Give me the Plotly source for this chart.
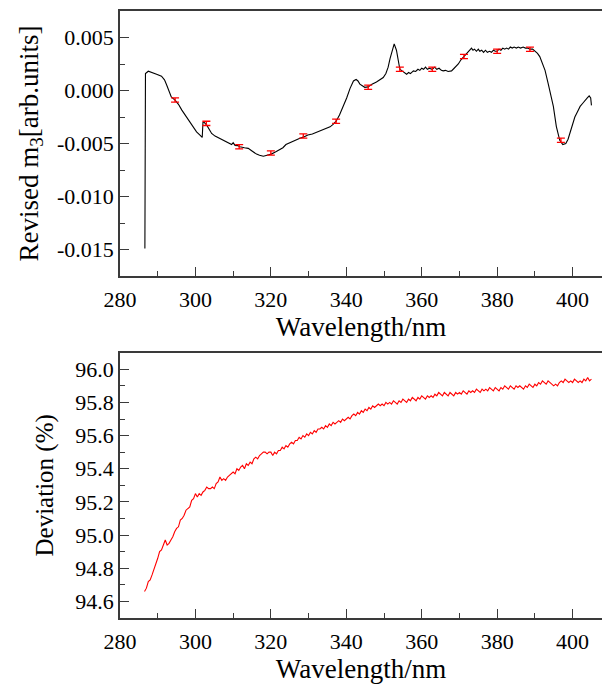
import plotly.graph_objects as go
from plotly.subplots import make_subplots

# ---------------- top panel: revised m3 ----------------
m3_wavelength = [
    286.6, 286.75, 287.5, 288.4, 289.7, 291.0, 291.8, 292.4, 293.6, 294.6,
    295.5, 296.4, 297.3, 298.1, 299.2, 300.3, 301.2, 301.8, 302.0, 302.2,
    303.0, 303.7, 304.3, 305.2, 306.5, 307.8, 309.1, 309.6, 310.0, 310.5,
    311.2, 311.8, 313.0, 314.0, 315.0, 316.2, 317.0, 318.0, 319.0, 320.1,
    321.2, 322.4, 323.2, 324.0, 325.1, 326.4, 327.7, 328.6, 329.8, 331.0,
    332.4, 333.9, 334.8, 335.7, 336.5, 337.3, 338.2, 339.2, 340.1, 341.0,
    341.9, 342.6, 343.1, 343.6, 344.3, 344.9, 345.8, 346.8, 348.0, 349.0,
    349.8, 350.5, 351.1, 351.6, 352.0, 352.7, 353.3, 353.9, 354.2, 354.6,
    355.1, 355.5, 356.0, 356.5, 357.0, 357.8, 358.4, 359.0, 359.5, 360.0,
    360.5, 361.0, 361.5, 362.0, 362.8, 363.4, 364.0, 364.6, 365.2, 365.7,
    366.3, 367.0, 367.9, 368.6, 369.2, 369.7, 370.4, 371.2, 371.8, 372.3,
    372.8, 373.2, 373.6, 374.0, 374.5, 375.0, 375.4, 375.9, 376.4, 376.9,
    377.4, 378.0, 378.5, 379.0, 379.5, 380.0, 380.5, 381.0, 381.5, 382.0,
    382.5, 383.0, 383.5, 384.0, 384.5, 385.1, 385.6, 386.2, 386.9, 387.5,
    388.1, 388.7, 389.4, 390.0, 390.7, 391.3, 392.0, 392.7, 393.5, 394.2,
    394.9, 395.7, 396.6, 397.4, 398.2, 398.8, 399.3, 400.0, 400.6, 401.3,
    402.0, 402.7, 403.3, 403.9, 404.4, 404.8, 405.0,
]
m3_value = [
    -0.0149, 0.0016, 0.00182, 0.00172, 0.00153, 0.00135, 0.0010, 0.0005, -0.0006, -0.0009,
    -0.0013, -0.00185, -0.0023, -0.0028, -0.0033, -0.0039, -0.0042, -0.00443, -0.0030, -0.00296,
    -0.00327, -0.0037, -0.00405, -0.0043, -0.00452, -0.0048, -0.0050, -0.0051, -0.00493, -0.00518,
    -0.0052, -0.00531, -0.0054, -0.00546, -0.0057, -0.0060, -0.0061, -0.0062, -0.0061, -0.0060,
    -0.0058, -0.00556, -0.0054, -0.0051, -0.0049, -0.0047, -0.0045, -0.0044, -0.0042, -0.0041,
    -0.0039, -0.00374, -0.0036, -0.00343, -0.0032, -0.0029, -0.0023, -0.00154, -0.0007, 0.0002,
    0.0009, 0.00104, 0.0009, 0.0006, 0.0004, 0.0003, 0.00034, 0.0006, 0.0008, 0.0010,
    0.00122, 0.0016, 0.0022, 0.0030, 0.0036, 0.0044, 0.0038, 0.0024, 0.0020, 0.0019,
    0.00175, 0.0016, 0.00153, 0.0017, 0.0016, 0.00185, 0.0018, 0.0020, 0.0019, 0.0021,
    0.0020, 0.0022, 0.0020, 0.0021, 0.0020, 0.0022, 0.0020, 0.0021, 0.0019, 0.00185,
    0.0019, 0.0018, 0.00185, 0.0021, 0.0023, 0.0025, 0.0029, 0.0032, 0.0034, 0.0036,
    0.0038, 0.0040, 0.0038, 0.0039, 0.0037, 0.0039, 0.0037, 0.0038, 0.0036, 0.0038,
    0.0036, 0.0037, 0.0036, 0.0038, 0.0037, 0.0037, 0.0039, 0.0038, 0.0040, 0.0039,
    0.0040, 0.0039, 0.0041, 0.0040, 0.0041, 0.0040, 0.0041, 0.0040, 0.0041, 0.0040,
    0.0040, 0.0039, 0.0039, 0.0037, 0.0035, 0.0032, 0.0026, 0.0019, 0.0007, -0.0004,
    -0.0015, -0.0034, -0.0047, -0.0051, -0.0050, -0.0046, -0.0040, -0.0032, -0.0025, -0.0020,
    -0.0015, -0.0012, -0.0009, -0.0007, -0.0005, -0.0007, -0.0014,
]

# error-bar samples on the top panel
err_wavelength = [294.6, 302.9, 311.6, 320.0, 328.6, 337.3, 345.8, 354.2, 362.8, 371.2, 380.0, 388.7, 396.9]
err_value = [-0.0009, -0.0031, -0.0053, -0.0059, -0.0043, -0.0029, 0.0003, 0.0020, 0.0020, 0.0032, 0.0037, 0.0039, -0.0047]
err_size = [0.0002] * 13

# ---------------- bottom panel: deviation ----------------
dev_start = 286.5
dev_step = 0.5
deviation = [
    94.66, 94.68, 94.72, 94.73, 94.76, 94.79, 94.83, 94.86, 94.90, 94.91,
    94.94, 94.97, 94.94, 94.95, 94.97, 94.99, 95.02, 95.04, 95.05, 95.09,
    95.10, 95.12, 95.15, 95.16, 95.17, 95.21, 95.22, 95.25, 95.23, 95.25,
    95.24, 95.26, 95.27, 95.29, 95.28, 95.28, 95.29, 95.28, 95.31, 95.32,
    95.35, 95.33, 95.34, 95.33, 95.35, 95.36, 95.37, 95.38, 95.37, 95.40,
    95.39, 95.41, 95.42, 95.40, 95.43, 95.42, 95.44, 95.43, 95.46, 95.47,
    95.46, 95.48, 95.49, 95.50, 95.50, 95.49, 95.50, 95.50, 95.48, 95.50,
    95.49, 95.51, 95.51, 95.53, 95.52, 95.54, 95.53, 95.55, 95.56, 95.55,
    95.57, 95.57, 95.59, 95.58, 95.60, 95.59, 95.61, 95.60, 95.62, 95.61,
    95.63, 95.62, 95.64, 95.64, 95.65, 95.64, 95.66, 95.65, 95.67, 95.66,
    95.68, 95.67, 95.68, 95.69, 95.68, 95.70, 95.69, 95.70, 95.71, 95.70,
    95.72, 95.73, 95.72, 95.74, 95.73, 95.75, 95.74, 95.76, 95.75, 95.77,
    95.76, 95.78, 95.77, 95.78, 95.79, 95.78, 95.79, 95.78, 95.80, 95.79,
    95.80, 95.79, 95.81, 95.80, 95.79, 95.81, 95.80, 95.82, 95.81, 95.80,
    95.82, 95.81, 95.83, 95.82, 95.81, 95.83, 95.82, 95.84, 95.83, 95.82,
    95.84, 95.83, 95.84, 95.83, 95.85, 95.84, 95.86, 95.85, 95.84, 95.86,
    95.85, 95.84, 95.86, 95.85, 95.84, 95.86, 95.85, 95.86, 95.85, 95.87,
    95.86, 95.85, 95.87, 95.86, 95.87, 95.86, 95.88, 95.87, 95.86, 95.88,
    95.87, 95.88, 95.87, 95.89, 95.88, 95.87, 95.89, 95.88, 95.87, 95.89,
    95.88, 95.90, 95.89, 95.88, 95.90, 95.89, 95.88, 95.90, 95.89, 95.90,
    95.89, 95.88, 95.90, 95.89, 95.91, 95.90, 95.89, 95.91, 95.90, 95.92,
    95.91, 95.93, 95.92, 95.91, 95.93, 95.92, 95.91, 95.90, 95.91, 95.90,
    95.92, 95.93, 95.92, 95.94, 95.93, 95.92, 95.93, 95.92, 95.94, 95.93,
    95.92, 95.93, 95.92, 95.94, 95.93, 95.95, 95.93, 95.94,
]
dev_wavelength = [dev_start + i * dev_step for i in range(len(deviation))]

x_ticks = [280, 300, 320, 340, 360, 380, 400]
top_ticks = [0.005, 0.000, -0.005, -0.010, -0.015]
top_tick_text = ["0.005", "0.000", "-0.005", "-0.010", "-0.015"]
bottom_ticks = [94.6, 94.8, 95.0, 95.2, 95.4, 95.6, 95.8, 96.0]
bottom_tick_text = ["94.6", "94.8", "95.0", "95.2", "95.4", "95.6", "95.8", "96.0"]

FONT = "Liberation Serif"

fig = make_subplots(rows=2, cols=1, vertical_spacing=0.0)

fig.add_trace(go.Scatter(x=m3_wavelength, y=m3_value, mode="lines",
                         line=dict(color="black", width=1.1), showlegend=False), row=1, col=1)
fig.add_trace(go.Scatter(x=err_wavelength, y=err_value, mode="markers",
                         marker=dict(size=1, color="red"),
                         error_y=dict(type="data", array=err_size, color="red", thickness=1.3, width=4),
                         showlegend=False), row=1, col=1)
fig.add_trace(go.Scatter(x=dev_wavelength, y=deviation, mode="lines",
                         line=dict(color="#ff0000", width=1.1), showlegend=False), row=2, col=1)

axis_common = dict(
    showline=True, linecolor="#3a3a3a", linewidth=1.5,
    ticks="inside", ticklen=9, tickwidth=1.2, tickcolor="#3a3a3a",
    showgrid=False, zeroline=False, automargin=False,
    tickfont=dict(family=FONT, size=22, color="black"),
)

for r in (1, 2):
    fig.update_xaxes(
        range=[280, 407.8], tickvals=x_ticks, ticktext=[str(v) for v in x_ticks],
        mirror=True, ticklabelstandoff=3,
        minor=dict(ticks="inside", ticklen=5, tickcolor="#3a3a3a", dtick=10, tick0=280),
        title=dict(text="Wavelength/nm", font=dict(family=FONT, size=27, color="black"), standoff=5),
        row=r, col=1, **axis_common)

fig.update_yaxes(
    range=[-0.0175, 0.0075], tickvals=top_ticks, ticktext=top_tick_text, mirror=False,
    minor=dict(ticks="inside", ticklen=5, tickcolor="#3a3a3a", dtick=0.0025, tick0=0),
    title=dict(text="Revised m<sub>3</sub>[arb.units]", font=dict(family=FONT, size=27, color="black"), standoff=11),
    row=1, col=1, **axis_common)

fig.update_yaxes(
    range=[94.5, 96.1], tickvals=bottom_ticks, ticktext=bottom_tick_text, mirror=False,
    minor=dict(ticks="inside", ticklen=5, tickcolor="#3a3a3a", dtick=0.1, tick0=94.5),
    title=dict(text="Deviation (%)", font=dict(family=FONT, size=25, color="black"), standoff=15),
    row=2, col=1, **axis_common)

fig.update_layout(
    width=602, height=690,
    margin=dict(l=120, r=0, t=11, b=72),
    paper_bgcolor="white", plot_bgcolor="white",
    font=dict(family=FONT, color="black"),
    xaxis=dict(domain=[0, 1]), xaxis2=dict(domain=[0, 1]),
    yaxis=dict(domain=[0.5634, 1.0]), yaxis2=dict(domain=[0.0, 0.4371]),
)

fig.write_html("out.html", config={"displayModeBar": False},
               post_script="document.body.style.margin='0';")
